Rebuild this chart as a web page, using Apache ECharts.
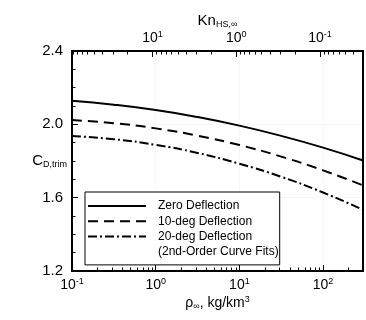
<!DOCTYPE html>
<html><head><meta charset="utf-8">
<script src="https://cdn.jsdelivr.net/npm/echarts@6/dist/echarts.min.js"></script>
<style>html,body{margin:0;padding:0;background:#fff}#c{width:366px;height:320px}</style>
</head><body><div id="c"></div>
<script>
// ---- data ----
const rho = [0.1, 0.316, 1, 3.16, 10, 31.6, 100, 300];
const zeroDefl = [2.128, 2.107, 2.078, 2.040, 1.993, 1.937, 1.873, 1.803];
const deg10Defl = [2.023, 2.006, 1.978, 1.938, 1.887, 1.824, 1.749, 1.667];
const deg20Defl = [1.936, 1.919, 1.888, 1.844, 1.785, 1.714, 1.628, 1.534];
const seriesNames = ['Zero Deflection', '10-deg Deflection', '20-deg Deflection', '(2nd-Order Curve Fits)'];
const yMin = 1.2, yMax = 2.4, yStep = 0.4;
const rhoMin = 0.1, rhoMax = 300;
const knTimesRho = 9.18; // Kn_HS,inf * rho_inf
const rhoMinorTicks = [0.2,0.3,0.4,0.5,0.6,0.7,0.8,0.9, 2,3,4,5,6,7,8,9, 20,30,40,50,60,70,80,90, 200];
const knMinorTicks = [0.04,0.05,0.06,0.07,0.08,0.09, 0.2,0.3,0.4,0.5,0.6,0.7,0.8,0.9, 2,3,4,5,6,7,8,9, 20,30,40,50,60,70,80,90];

const FONT = "'Liberation Sans', Arial, Helvetica, sans-serif";
const chart = echarts.init(document.getElementById('c'), null, {renderer: 'canvas'});

function powLabel(v) {
  const e = Math.log10(v);
  const r = Math.round(e);
  if (Math.abs(e - r) > 1e-6) return '';
  return '{n|10}{s|' + r + '}';
}
const powRich = {
  n: {fontSize: 14, color: '#000', fontFamily: FONT, lineHeight: 16},
  s: {fontSize: 9, color: '#000', fontFamily: FONT, verticalAlign: 'top', lineHeight: 9}
};

function minorTickSeries(values, xAxisIndex, atTop) {
  return {
    type: 'custom', xAxisIndex: xAxisIndex, yAxisIndex: 0, silent: true, clip: false, z: 5,
    data: values.map(v => [v, atTop ? yMax : yMin]),
    encode: {x: 0, y: 1},
    renderItem: function (params, api) {
      const p = api.coord([api.value(0), api.value(1)]);
      const x = Math.round(p[0]) + 0.5;
      const dir = atTop ? 1 : -1;
      return {type: 'line', shape: {x1: x, y1: p[1], x2: x, y2: p[1] + dir * 3.5},
              style: {stroke: '#000', lineWidth: 1}};
    }
  };
}

const axisLine = {show: true, onZero: false, lineStyle: {color: '#000', width: 2}};
const split = {show: true, lineStyle: {color: '#efefef', type: 'dotted', width: 1}};

function lineSeries(name, data, type, z) {
  return {
    name: name, type: 'line', xAxisIndex: 0, yAxisIndex: 0, smooth: true, symbol: 'none', z: z,
    data: rho.map((r, i) => [r, data[i]]),
    itemStyle: {color: '#000'},
    lineStyle: {color: '#000', width: 2, type: type}
  };
}

chart.setOption({
  animation: false,
  backgroundColor: '#fff',
  textStyle: {fontFamily: FONT},
  grid: {left: 72, right: 3, top: 51, bottom: 49},
  legend: {
    data: seriesNames, orient: 'vertical', left: 85, top: 192,
    itemWidth: 58, itemHeight: 12, itemGap: 3.3,
    padding: [8, 1, 7, 2], borderColor: '#000', borderWidth: 1, backgroundColor: '#fff',
    itemStyle: {opacity: 0},
    textStyle: {fontFamily: FONT, fontSize: 12, color: '#000', padding: [0, 0, 0, 7]},
    selectedMode: false, z: 10
  },
  xAxis: [
    {
      type: 'log', min: rhoMin, max: rhoMax, position: 'bottom',
      axisLine: axisLine,
      axisTick: {show: true, inside: true, length: 6, lineStyle: {color: '#000', width: 1}},
      axisLabel: {formatter: powLabel, margin: 6, rich: powRich, color: '#000'},
      splitLine: split,
      name: '{r|ρ}{sub|∞}{r|, kg/km}{sup|3}', nameLocation: 'middle', nameGap: 24, nameMoveOverlap: false,
      nameTextStyle: {rich: {
        r: {fontSize: 14, color: '#000', fontFamily: FONT, lineHeight: 16},
        sub: {fontSize: 9, color: '#000', fontFamily: FONT, verticalAlign: 'bottom', lineHeight: 9},
        sup: {fontSize: 9, color: '#000', fontFamily: FONT, verticalAlign: 'top', lineHeight: 9}
      }}
    },
    {
      type: 'log', inverse: true, min: knTimesRho / rhoMax, max: knTimesRho / rhoMin, position: 'top',
      axisLine: axisLine,
      axisTick: {show: true, inside: true, length: 6, lineStyle: {color: '#000', width: 1}},
      axisLabel: {formatter: powLabel, margin: 5, rich: powRich, color: '#000'},
      splitLine: {show: false},
      name: '{k|Kn}{sub|HS,∞}', nameLocation: 'middle', nameGap: 22, nameMoveOverlap: false,
      nameTextStyle: {rich: {
        k: {fontSize: 15, color: '#000', fontFamily: FONT, lineHeight: 17},
        sub: {fontSize: 9, color: '#000', fontFamily: FONT, verticalAlign: 'bottom', lineHeight: 9}
      }}
    }
  ],
  yAxis: [
    {
      type: 'value', min: yMin, max: yMax, interval: yStep, position: 'left',
      axisLine: axisLine,
      axisTick: {show: true, inside: true, length: 6, lineStyle: {color: '#000', width: 1}},
      minorTick: {show: true, splitNumber: 4, length: 3.5, lineStyle: {color: '#000', width: 1}},
      axisLabel: {formatter: v => v.toFixed(1), fontSize: 15, color: '#000', fontFamily: FONT, margin: 9},
      splitLine: split,
      name: '{c|C}{sub|D,trim}', nameLocation: 'middle', nameRotate: 0, nameGap: 5, nameMoveOverlap: false,
      nameTextStyle: {rich: {
        c: {fontSize: 15, color: '#000', fontFamily: FONT, lineHeight: 17},
        sub: {fontSize: 9, color: '#000', fontFamily: FONT, verticalAlign: 'bottom', lineHeight: 9}
      }}
    },
    {
      type: 'value', min: yMin, max: yMax, interval: yStep, position: 'right',
      axisLine: axisLine, axisTick: {show: false}, axisLabel: {show: false}, splitLine: {show: false}
    }
  ],
  series: [
    lineSeries(seriesNames[0], zeroDefl, 'solid', 3),
    lineSeries(seriesNames[1], deg10Defl, [10, 6], 3),
    lineSeries(seriesNames[2], deg20Defl, [9, 3, 2, 3], 3),
    {name: seriesNames[3], type: 'line', xAxisIndex: 0, yAxisIndex: 0, symbol: 'none', data: [],
     itemStyle: {color: '#000', opacity: 0}, lineStyle: {opacity: 0, width: 0}},
    minorTickSeries(rhoMinorTicks, 0, false),
    minorTickSeries(knMinorTicks, 1, true)
  ]
});
</script>
</body></html>
